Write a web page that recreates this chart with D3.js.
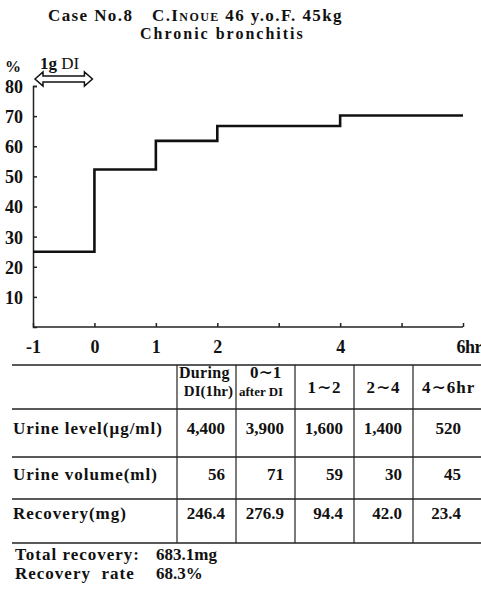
<!DOCTYPE html>
<html lang="en">
<head>
<meta charset="UTF-8">
<title>Case No.8 recovery</title>
<style>
body { margin: 0; background: #fff; }
text { font-family: 'Liberation Serif', 'DejaVu Serif', serif; font-weight: 700; fill: #111; }
.axis text { font-size: 18px; }
.axis path, .axis line { stroke: #222; stroke-width: 1.5; }
.tbl { font-size: 17px; letter-spacing: 1px; }
</style>
<script src="https://cdn.jsdelivr.net/npm/d3@7"></script>
</head>
<body>
<div id="vis"></div>
<script>
// chart data
const hours = [-1, 0, 1, 2, 4, 6];
const cumRate = [25, 52.3, 61.8, 66.7, 70.2];
const yTicks = [10, 20, 30, 40, 50, 60, 70, 80];
const xTicks = [-1, 0, 1, 2, 3, 4, 5, 6];
const xLabels = [-1, 0, 1, 2, 4, 6];

// table data
const periods = ["p1", "p2", "p3", "p4", "p5"];
const rowNames = ["Urine level(\u03bcg/ml)", "Urine volume(ml)", "Recovery(mg)"];
const urineLevel = [4400, 3900, 1600, 1400, 520];
const urineVolume = [56, 71, 59, 30, 45];
const recovery = [246.4, 276.9, 94.4, 42.0, 23.4];
const totalRecovery = 683.1;
const recoveryRate = 68.3;

const width = 481;
const height = 596;

let svg = d3.select("#vis").append("svg")
  .attr("width", width)
  .attr("height", height);

let x = d3.scaleLinear().domain([-1, 6]).range([33, 463]);
let y = d3.scaleLinear().domain([0, 80]).range([327, 86]);

// title
let t1 = svg.append("text").attr("x", 48).attr("y", 21)
  .style("font-size", "17px").style("letter-spacing", "1.4px");
t1.append("tspan").text("Case No.8");
t1.append("tspan").attr("x", 152).text("C.I");
t1.append("tspan").style("font-size", "12px").text("NOUE");
t1.append("tspan").text(" 46 y.o.F. 45kg");
svg.append("text").attr("x", 140).attr("y", 39)
  .style("font-size", "16px").style("letter-spacing", "2px")
  .text("Chronic bronchitis");

// axes
let yAxis = svg.append("g").attr("class", "axis")
  .attr("transform", "translate(" + x(-1) + ",0)")
  .call(d3.axisLeft(y).tickValues(yTicks).tickSize(-4).tickPadding(10));
yAxis.selectAll("text").attr("dy", "0.36em");

let xAxis = svg.append("g").attr("class", "axis")
  .attr("transform", "translate(0," + y(0) + ")")
  .call(d3.axisBottom(x).tickValues(xTicks).tickSize(-4).tickPadding(13)
    .tickFormat(function(d){
      if (xLabels.indexOf(d) < 0) return "";
      return d === 6 ? "6hr" : d;
    }));
xAxis.select(".domain").attr("d", "M" + x(-1) + ",0H" + x(6));
xAxis.selectAll(".tick").filter(function(d){ return d === 6; })
  .select("text").attr("text-anchor", "start").attr("dx", -7)
  .style("letter-spacing", "-0.5px");

svg.append("text").attr("x", 5).attr("y", 72).style("font-size", "16px").text("%");

// dosing arrow
let ax0 = x(-1) + 2, ax1 = x(0) - 2, ay = 79;
svg.append("path")
  .attr("d", "M" + ax0 + "," + ay + "L" + (ax0 + 8) + "," + (ay - 7) + "L" + (ax0 + 8) + "," + (ay - 3) +
    "L" + (ax1 - 8) + "," + (ay - 3) + "L" + (ax1 - 8) + "," + (ay - 7) + "L" + ax1 + "," + ay +
    "L" + (ax1 - 8) + "," + (ay + 7) + "L" + (ax1 - 8) + "," + (ay + 3) +
    "L" + (ax0 + 8) + "," + (ay + 3) + "L" + (ax0 + 8) + "," + (ay + 7) + "Z")
  .attr("fill", "none").attr("stroke", "#111").attr("stroke-width", 1.5);
let lbl = svg.append("text").attr("x", 40).attr("y", 69).style("font-size", "17px");
lbl.append("tspan").text("1g ");
lbl.append("tspan").style("font-weight", 400).text("DI");

// step line
let pts = hours.map(function(h, i){
  return [h, cumRate[Math.min(i, cumRate.length - 1)]];
});
let line = d3.line()
  .x(function(d){ return x(d[0]); })
  .y(function(d){ return y(d[1]); })
  .curve(d3.curveStepAfter);
svg.append("path").datum(pts)
  .attr("d", line)
  .attr("fill", "none")
  .attr("stroke", "#111")
  .attr("stroke-width", 2.6);

// table
const rowLines = [365, 409, 457, 499, 543];
const baselines = [434, 480, 519];
let col = d3.scaleBand().domain(periods).range([177, 472]);

let tbl = svg.append("g").attr("class", "tbl");
tbl.selectAll("line.h").data(rowLines).enter().append("line")
  .attr("x1", 12).attr("x2", width)
  .attr("y1", function(d){ return d; }).attr("y2", function(d){ return d; })
  .attr("stroke", "#222").attr("stroke-width", 1.5);
tbl.selectAll("line.v").data(periods).enter().append("line")
  .attr("x1", function(d){ return col(d); }).attr("x2", function(d){ return col(d); })
  .attr("y1", rowLines[0]).attr("y2", rowLines[rowLines.length - 1])
  .attr("stroke", "#222").attr("stroke-width", 1.2);

// header
tbl.append("text").attr("x", col("p1") + 2).attr("y", 378)
  .style("font-size", "16px").style("letter-spacing", "0.3px").text("During");
tbl.append("text").attr("x", col("p1") + col.bandwidth() - 3).attr("y", 396)
  .attr("text-anchor", "end").style("font-size", "15px").style("letter-spacing", "0px").text("DI(1hr)");
tbl.append("text").attr("x", col("p2") + 14).attr("y", 378).style("letter-spacing", "0px").text("0\u223c1");
tbl.append("text").attr("x", col("p2") + 3).attr("y", 396).style("font-size", "13px")
  .style("letter-spacing", "0px").text("after DI");
tbl.append("text").attr("x", col("p3") + col.bandwidth() / 2).attr("y", 393)
  .attr("text-anchor", "middle").text("1\u223c2");
tbl.append("text").attr("x", col("p4") + col.bandwidth() / 2).attr("y", 393)
  .attr("text-anchor", "middle").text("2\u223c4");
tbl.append("text").attr("x", col("p5") + 9).attr("y", 393).text("4\u223c6hr");

// rows
let rows = [
  urineLevel.map(d3.format(",")),
  urineVolume.map(String),
  recovery.map(d3.format(".1f"))
];
rows.forEach(function(vals, r){
  tbl.append("text").attr("x", 13).attr("y", baselines[r]).text(rowNames[r]);
  tbl.selectAll(null).data(vals).enter().append("text")
    .attr("x", function(d, i){ return col(periods[i]) + col.bandwidth() - 11; })
    .attr("y", baselines[r])
    .attr("text-anchor", "end")
    .style("letter-spacing", "0px")
    .text(function(d){ return d; });
});

// footer
let f = svg.append("g").attr("class", "tbl");
f.append("text").attr("x", 15).attr("y", 560).text("Total recovery:");
f.append("text").attr("x", 156).attr("y", 560).style("letter-spacing", "0px").text(totalRecovery + "mg");
f.append("text").attr("x", 15).attr("y", 579).attr("xml:space", "preserve").text("Recovery  rate");
f.append("text").attr("x", 156).attr("y", 579).style("letter-spacing", "0px").text(recoveryRate + "%");
</script>
</body>
</html>
